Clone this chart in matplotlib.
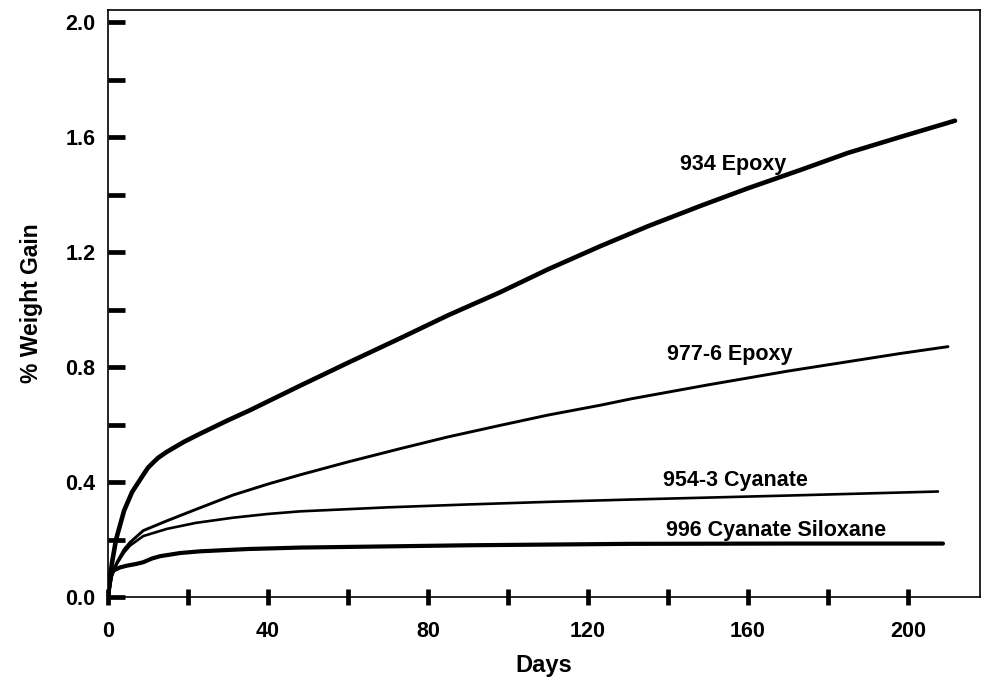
import matplotlib

matplotlib.use("Agg")
import matplotlib.pyplot as plt  # noqa: E402
from matplotlib.ticker import MultipleLocator, FormatStrFormatter  # noqa: E402

plt.rcParams["font.family"] = ["Liberation Sans", "DejaVu Sans"]
plt.rcParams["font.weight"] = "bold"

# 値は図から読み取り（日数, 重量増加 %）
days_934 = [0, 0.5, 1, 2, 3, 4, 6, 8.8, 10, 11.3, 12.5, 14.7, 19, 23, 30, 35.5, 48, 60, 73, 85, 98,
            110, 123, 135, 148, 160, 173, 185, 198, 211.75]
gain_934 = [0, 0.07, 0.12, 0.2, 0.25, 0.3, 0.365, 0.425, 0.45, 0.468, 0.484, 0.505, 0.54, 0.568,
            0.615, 0.65, 0.735, 0.815, 0.9, 0.98, 1.06, 1.14, 1.22, 1.29, 1.36, 1.422, 1.485,
            1.545, 1.60, 1.657]

days_977 = [0, 1, 2.2, 4, 5.5, 8.8, 14.7, 22, 31.3, 40, 48, 60, 73, 85, 98, 110, 123, 131,
            150, 170, 198, 210]
gain_977 = [0, 0.08, 0.12, 0.165, 0.19, 0.231, 0.265, 0.305, 0.355, 0.393, 0.425, 0.47, 0.516,
            0.557, 0.597, 0.633, 0.667, 0.69, 0.738, 0.786, 0.847, 0.871]

days_954 = [0, 1, 2.2, 4, 5.5, 8.8, 14.7, 22, 31.3, 40, 48, 70, 90, 110, 130.5, 170, 207.5]
gain_954 = [0, 0.075, 0.115, 0.155, 0.179, 0.212, 0.237, 0.258, 0.276, 0.289, 0.298, 0.312,
            0.322, 0.331, 0.339, 0.353, 0.367]

days_996 = [0, 0.6, 1.3, 3, 4.7, 7, 8.8, 11, 13, 18, 23, 35, 48, 90, 130.5, 170, 208.75]
gain_996 = [0, 0.07, 0.092, 0.103, 0.109, 0.115, 0.121, 0.134, 0.142, 0.153, 0.159, 0.167,
            0.172, 0.18, 0.185, 0.186, 0.186]

labels = ["934 Epoxy", "977-6 Epoxy", "954-3 Cyanate", "996 Cyanate Siloxane"]
label_pos = [(143, 1.503), (139.75, 0.842), (138.75, 0.407), (139.5, 0.233)]

fig = plt.figure(figsize=(9.84, 6.82), dpi=100)
ax = fig.add_axes([0.1098, 0.1246, 0.8861, 0.8607])

kw = dict(color="black", solid_joinstyle="round", solid_capstyle="round")
ax.plot(days_934, gain_934, lw=3.3, **kw)
ax.plot(days_977, gain_977, lw=2.1, **kw)
ax.plot(days_954, gain_954, lw=1.9, **kw)
ax.plot(days_996, gain_996, lw=3.0, **kw)

for txt, (x, y) in zip(labels, label_pos):
    ax.text(x, y, txt, ha="left", va="center", fontsize=15.5, fontweight="bold")

ax.set_xlim(0, 218)
ax.set_ylim(0, 2.042)

ax.xaxis.set_major_locator(MultipleLocator(40))
ax.xaxis.set_minor_locator(MultipleLocator(20))
ax.yaxis.set_major_locator(MultipleLocator(0.4))
ax.yaxis.set_minor_locator(MultipleLocator(0.2))
ax.yaxis.set_major_formatter(FormatStrFormatter("%.1f"))

ax.tick_params(axis="y", which="both", direction="in", length=12, width=3.4,
               labelsize=15.5, pad=9)
ax.tick_params(axis="x", which="both", direction="inout", length=12, width=3.4,
               labelsize=15.5, pad=11)
for lab in ax.get_xticklabels() + ax.get_yticklabels():
    lab.set_fontweight("bold")

for s in ax.spines.values():
    s.set_linewidth(1.2)

ax.set_xlabel("Days", fontsize=17, fontweight="bold", labelpad=9)
ax.set_ylabel("% Weight Gain", fontsize=16.5, fontweight="bold", labelpad=16)

fig.savefig("out.png", dpi=100)
